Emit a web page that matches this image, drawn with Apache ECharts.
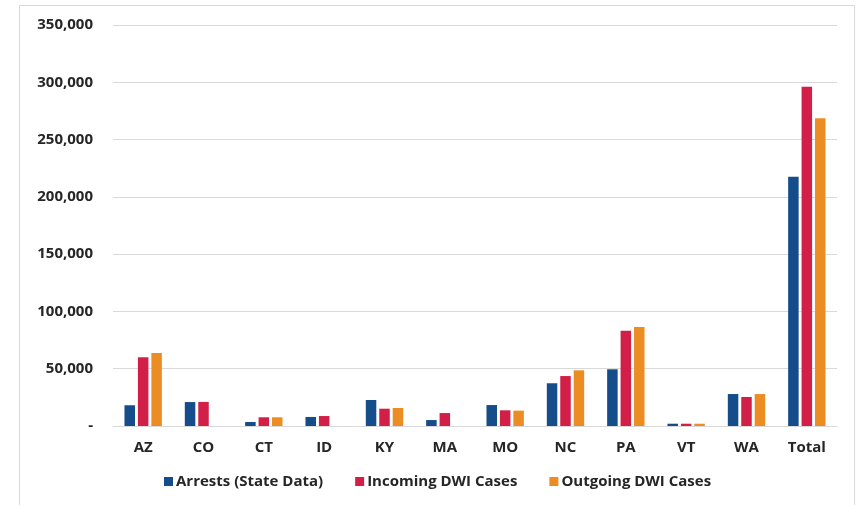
<!DOCTYPE html>
<html>
<head>
<meta charset="utf-8">
<script src="https://cdn.jsdelivr.net/npm/echarts@6/dist/echarts.min.js"></script>
<style>
  html, body { margin: 0; padding: 0; background: #ffffff; }
  #frame { position: absolute; left: 19px; top: 5px; width: 836px; height: 520px; border: 1px solid #d9d9d9; box-sizing: border-box; }
  #chart { position: absolute; left: 0; top: 0; width: 861px; height: 505px; }
</style>
</head>
<body>
<div id="frame"></div>
<div id="chart"></div>
<script>
// DWI arrests and court caseloads by state
const states = ['AZ', 'CO', 'CT', 'ID', 'KY', 'MA', 'MO', 'NC', 'PA', 'VT', 'WA', 'Total'];
const arrests = [18100, 20900, 3500, 7900, 22700, 5200, 18300, 37300, 49500, 2000, 27900, 217600];
const incoming = [60000, 21000, 7600, 8700, 15100, 11300, 13700, 43600, 83200, 2000, 25300, 296200];
const outgoing = [63700, null, 7600, null, 15700, null, 13400, 48600, 86400, 2000, 27900, 268600];
const yTicks = [0, 50000, 100000, 150000, 200000, 250000, 300000, 350000];

const seriesNames = ['Arrests (State Data)', 'Incoming DWI Cases', 'Outgoing DWI Cases'];
const seriesColors = ['#154d8b', '#d21f47', '#ec8d24'];
const seriesData = [arrests, incoming, outgoing];

const font = '"Open Sans", "Noto Sans", sans-serif';
const textColor = '#262626';
const chart = echarts.init(document.getElementById('chart'));

chart.setOption({
  animation: false,
  textStyle: { fontFamily: font },
  grid: { left: 113, right: 24, top: 25, bottom: 79, containLabel: false },
  legend: {
    left: 164, top: 474, padding: 0,
    itemWidth: 9, itemHeight: 9, itemGap: 32,
    icon: 'rect',
    textStyle: { fontFamily: font, fontWeight: 'bold', fontSize: 15, color: textColor, padding: [0, 0, 0, -2] },
    data: seriesNames
  },
  xAxis: {
    type: 'category',
    data: states,
    axisLine: { lineStyle: { color: '#d9d9d9', width: 1 } },
    axisTick: { show: false },
    axisLabel: { color: textColor, fontWeight: 'bold', fontSize: 15, fontFamily: font, margin: 14 }
  },
  yAxis: {
    type: 'value',
    min: yTicks[0], max: yTicks[yTicks.length - 1], interval: yTicks[1] - yTicks[0],
    axisLine: { show: false },
    axisTick: { show: false },
    splitLine: { lineStyle: { color: '#d9d9d9', width: 1 } },
    axisLabel: {
      color: textColor, fontWeight: 'bold', fontSize: 15, fontFamily: font, margin: 20,
      formatter: v => v === 0 ? '-' : v.toLocaleString('en-US')
    }
  },
  series: seriesNames.map((name, i) => ({
    name: name,
    type: 'bar',
    data: seriesData[i],
    barWidth: 10.5,
    barGap: '28%',
    itemStyle: { color: seriesColors[i] }
  }))
});
</script>
</body>
</html>
